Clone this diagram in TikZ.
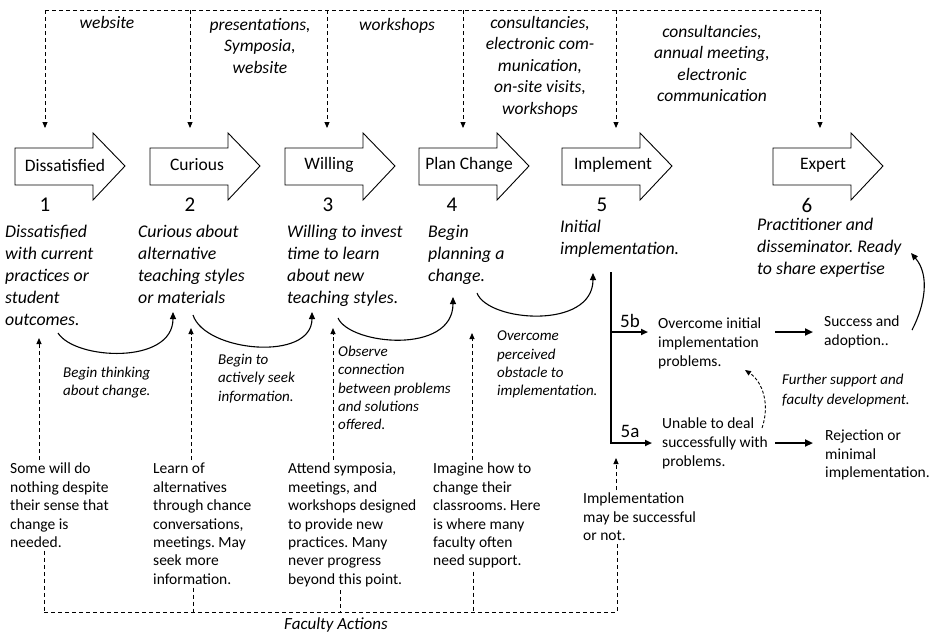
\documentclass[tikz,border=0pt]{standalone}
\usepackage{fontspec}
\setmainfont{Carlito}
\frenchspacing
\usetikzlibrary{arrows.meta}
\tikzset{stagebox/.style={font=\fontsize{17.5}{21}\selectfont, inner sep=0pt}}
\tikzset{stagenum/.style={font=\fontsize{21}{24}\selectfont, inner sep=0pt}}
\tikzset{support/.style={font=\fontsize{17.5}{21.5}\selectfont\itshape, align=center, anchor=north, inner sep=0pt}}
\tikzset{desc/.style={font=\fontsize{17.8}{22}\selectfont\itshape, align=left, anchor=north west, inner sep=0pt}}
\tikzset{note/.style={font=\fontsize{15}{18.3}\selectfont\itshape, align=left, anchor=north west, inner sep=0pt}}
\tikzset{act/.style={font=\fontsize{15.5}{18.4}\selectfont, align=left, anchor=north west, inner sep=0pt}}
\tikzset{dline/.style={dash pattern=on 4pt off 3pt, line width=0.9pt}}
\tikzset{dtip/.style={dline, -{Triangle[length=6pt,width=5pt]}}}
\tikzset{swoop/.style={line width=1.1pt, -{Triangle[length=7pt,width=6pt]}}}
\tikzset{thickarr/.style={line width=2.2pt, -{Triangle[length=8pt,width=7pt]}}}

\begin{document}
\begin{tikzpicture}[x=1pt,y=-1pt]
		\useasboundingbox (0,0) rectangle (931,633);
		\foreach \x/\c/\n/\t in {15/65/1/Dissatisfied, 150/197/2/Curious, 285/329/3/Willing, 419/469/4/Plan Change, 562/613/5/Implement, 773/823/6/Expert}{
			\draw[line width=0.9pt] (\x,148) -- ++(78,0) -- ++(0,-15) -- ++(32,33) -- ++(-32,34) -- ++(0,-15) -- ++(-78,0) -- cycle;
			\node[stagebox] (s\n) at (\c,165) {\t};
		}
		\foreach \n/\x in {1/45, 2/190, 3/328, 4/452, 5/602, 6/807}
			\node[stagenum] (n\n) at (\x,205) {\n};
		\foreach \x [count=\i] in {45,190,327,463,616,820}{
			\coordinate (top\i) at (\x,10);
			\coordinate (in\i) at (\x,128);
			\draw[dtip] (top\i) -- (in\i);
		}
		\draw[dline] (top1) -- (top6);
		\node[support] (w1) at (107,16) {website};
		\node[support] (w2) at (260,18) {presentations,\\Symposia,\\website};
		\node[support] (w3) at (397,18) {workshops};
		\node[support] (w4) at (540,16) {consultancies,\\electronic com-\\munication,\\on-site visits,\\workshops};
		\node[support] (w5) at (712,25) {consultancies,\\annual meeting,\\electronic\\communication};
		\node[desc] (d1) at (5,225) {Dissatisfied\\with current\\practices or\\student\\outcomes.};
		\node[desc] (d2) at (138,225) {Curious about\\alternative\\teaching styles\\or materials};
		\node[desc] (d3) at (287,225) {Willing to invest\\time to learn\\about new\\teaching styles.};
		\node[desc] (d4) at (428,225) {Begin\\planning a\\change.};
		\node[desc] (d5) at (560,220) {Initial\\implementation.};
		\node[desc] (d6) at (757,218) {Practitioner and\\disseminator. Ready\\to share expertise};
		\coordinate (c1a) at (58,333); \coordinate (c1b) at (173,312);
		\coordinate (c2a) at (193,315); \coordinate (c2b) at (312,312);
		\coordinate (c3a) at (338,318); \coordinate (c3b) at (453,297);
		\coordinate (c4a) at (477,293); \coordinate (c4b) at (593,273);
		\coordinate (c6a) at (912,330); \coordinate (c6b) at (911,253);
		\draw[swoop] (c1a) .. controls (75,360) and (173,365) .. (c1b);
		\draw[swoop] (c2a) .. controls (205,352) and (312,362) .. (c2b);
		\draw[swoop] (c3a) .. controls (350,345) and (453,355) .. (c3b);
		\draw[swoop] (c4a) .. controls (488,322) and (593,330) .. (c4b);
		\draw[swoop] (c6a) .. controls (925,305) and (930,275) .. (c6b);
		\node[note] (g1) at (63,367) {Begin thinking\\about change.};
		\node[note] (g2) at (218,354) {Begin to\\actively seek\\information.};
		\node[note] (g3) at (338,346) {Observe\\connection\\between problems\\and solutions\\offered.};
		\node[note] (g4) at (497,331) {Overcome\\perceived\\obstacle to\\implementation.};
		\node[note, font=\fontsize{15}{20}\selectfont\itshape] (g5) at (782,374) {Further support and\\faculty development.};
		\node[act] (a1) at (10,463) {Some will do\\nothing despite\\their sense that\\change is\\needed.};
		\node[act] (a2) at (153,463) {Learn of\\alternatives\\through chance\\conversations,\\meetings. May\\seek more\\information.};
		\node[act] (a3) at (288,463) {Attend symposia,\\meetings, and\\workshops designed\\to provide new\\practices. Many\\never progress\\beyond this point.};
		\node[act] (a4) at (433,463) {Imagine how to\\change their\\classrooms. Here\\is where many\\faculty often\\need support.};
		\node[act] (a5) at (583,493) {Implementation\\may be successful\\or not.};
		\coordinate (u1) at (39,338); \coordinate (l1) at (44,612);
		\coordinate (u2) at (191,328); \coordinate (l2) at (193,612);
		\coordinate (u3) at (333,328); \coordinate (l3) at (340,612);
		\coordinate (u4) at (472,333); \coordinate (l4) at (473,612);
		\coordinate (u5) at (616,458); \coordinate (l5) at (617,612);
		\foreach \i in {1,...,5}{
			\draw[dtip] ([yshift=3pt]a\i.north -| u\i) -- (u\i);
			\draw[dline] ([yshift=-3pt]a\i.south -| l\i) -- (l\i);
		}
		\draw[dline] (l1) -- (l5);
		\node[font=\fontsize{17}{21}\selectfont\itshape] (fa) at (336,625) {Faculty Actions};
		\coordinate (imp) at (611,272);
		\coordinate (j5b) at (611,332);
		\coordinate (j5a) at (611,443);
		\node[stagenum, font=\fontsize{19}{22}\selectfont] (k5b) at (630,321) {5b};
		\node[stagenum, font=\fontsize{19}{22}\selectfont] (k5a) at (630,431) {5a};
		\node[act, font=\fontsize{15.5}{19}\selectfont] (p5b) at (658,318) {Overcome initial\\implementation\\problems.};
		\node[act, font=\fontsize{15.5}{19}\selectfont] (p5a) at (662,418) {Unable to deal\\successfully with\\problems.};
		\node[act, font=\fontsize{15.5}{19}\selectfont] (succ) at (824,316) {Success and\\adoption..};
		\node[act, font=\fontsize{15.5}{18.5}\selectfont] (rej) at (825,430) {Rejection or\\minimal\\implementation.};
		\draw[line width=2.5pt] (imp) -- (j5a);
		\draw[line width=2pt, -{Triangle[length=7pt,width=6pt]}] ([xshift=-1pt]j5a) -- ([xshift=-10pt]p5a.west |- j5a);
		\draw[line width=2pt, -{Triangle[length=7pt,width=6pt]}] (j5b) -- ([xshift=-10pt]p5b.west |- j5b);
		\draw[thickarr] ([xshift=-49pt]succ.west |- j5b) -- ([xshift=-11pt]succ.west |- j5b);
		\draw[thickarr] ([xshift=-50pt]rej.west |- j5a) -- ([xshift=-12pt]rej.west |- j5a);
		\coordinate (q5a) at (762,428); \coordinate (q5b) at (745,370);
		\draw[dtip, dash pattern=on 3pt off 2pt] (q5a) .. controls (770,405) and (763,382) .. (q5b);
\end{tikzpicture}
\end{document}
